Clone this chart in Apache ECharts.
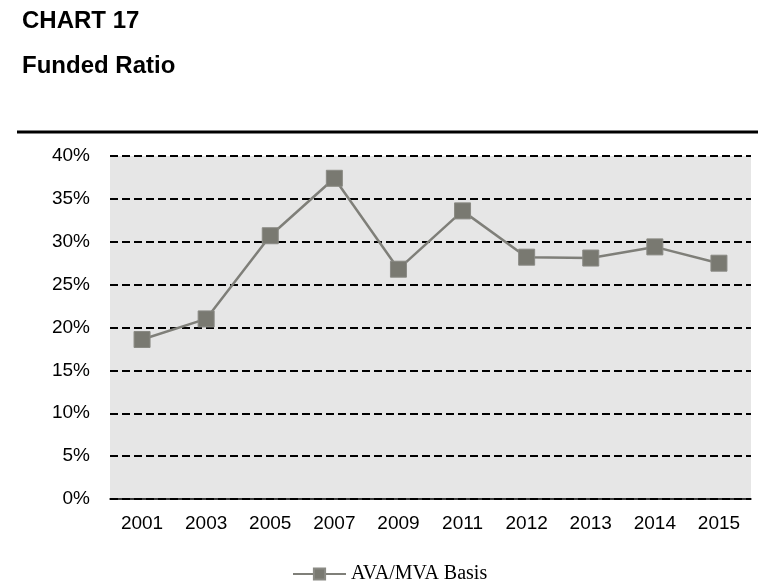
<!DOCTYPE html>
<html>
<head>
<meta charset="utf-8">
<title>Funded Ratio</title>
<script src="https://cdn.jsdelivr.net/npm/echarts@6/dist/echarts.min.js"></script>
<style>
  html, body { margin: 0; padding: 0; background: #ffffff; }
  #chart { width: 758px; height: 582px; }
</style>
</head>
<body>
<div id="chart"></div>
<script>
// Plan years shown along the horizontal axis
const years = ['2001', '2003', '2005', '2007', '2009', '2011', '2012', '2013', '2014', '2015'];
// Funded ratio on an AVA/MVA basis, in percent
const fundedRatio = [18.6, 21.0, 30.7, 37.4, 26.8, 33.6, 28.2, 28.1, 29.4, 27.5];
const seriesName = 'AVA/MVA Basis';
// Value axis range and step, in percent
const yMin = 0, yMax = 40, yStep = 5;

const chart = echarts.init(document.getElementById('chart'), null, { renderer: 'canvas' });

const sans = '"Liberation Sans", Arial, sans-serif';
const serif = '"Liberation Serif", "Times New Roman", serif';
const markColor = '#797971';

chart.setOption({
  backgroundColor: '#ffffff',
  animation: false,
  title: [
    { text: 'CHART 17', left: 17, top: 4,
      textStyle: { fontFamily: sans, fontSize: 24, fontWeight: 'bold', color: '#000' } },
    { text: 'Funded Ratio', left: 17, top: 49,
      textStyle: { fontFamily: sans, fontSize: 24, fontWeight: 'bold', color: '#000' } }
  ],
  graphic: [
    { type: 'line', shape: { x1: 17, y1: 132, x2: 758, y2: 132 },
      style: { stroke: '#000', lineWidth: 3 } }
  ],
  grid: {
    left: 110, right: 7, top: 156, bottom: 83,
    show: true, backgroundColor: '#e6e6e6', borderWidth: 0
  },
  legend: {
    data: [seriesName],
    left: 292, top: 564, padding: 0,
    itemWidth: 53, itemHeight: 14,
    textStyle: { fontFamily: serif, fontSize: 20, color: '#000' }
  },
  xAxis: {
    type: 'category',
    data: years,
    boundaryGap: true,
    axisLine: { show: true, lineStyle: { color: '#000', width: 1.5 } },
    axisTick: { show: false },
    axisLabel: { fontFamily: sans, fontSize: 19, color: '#000', margin: 15 },
    splitLine: { show: false }
  },
  yAxis: {
    type: 'value',
    min: yMin, max: yMax, interval: yStep,
    axisLine: { show: false },
    axisTick: { show: false },
    axisLabel: { fontFamily: sans, fontSize: 19, color: '#000', margin: 20,
      formatter: v => v + '%' },
    splitLine: { show: true, lineStyle: { color: '#000', width: 2, type: [8, 4] } }
  },
  series: [{
    name: seriesName,
    type: 'line',
    data: fundedRatio,
    symbol: 'rect',
    symbolSize: 16,
    itemStyle: { color: markColor, borderColor: '#8a8a84', borderWidth: 1 },
    lineStyle: { color: '#7f7f79', width: 2.5 },
    z: 5
  }]
});
</script>
</body>
</html>
